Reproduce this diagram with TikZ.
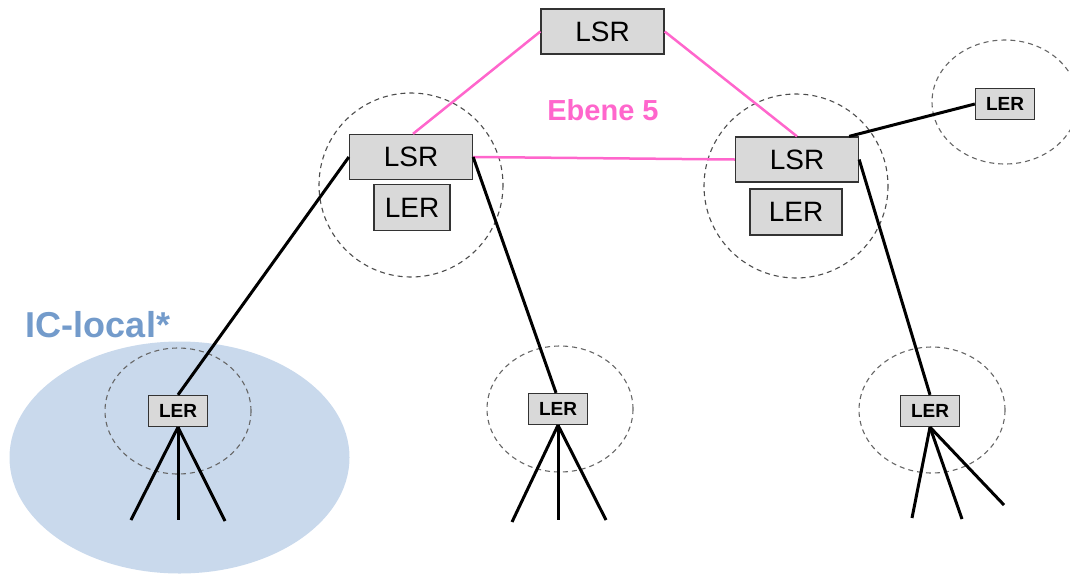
\documentclass[tikz,border=0pt]{standalone}
\usepackage{fontspec}
\setmainfont{Liberation Sans}
\usepackage{xcolor}
\definecolor{pinkline}{HTML}{FF66CC}
\definecolor{icblue}{HTML}{C9D9EC}
\definecolor{ictext}{HTML}{739BCB}
\definecolor{boxgray}{HTML}{D9D9D9}

\tikzset{
  box/.style={draw=black!80, fill=boxgray, line width=1.3pt, inner sep=0pt},
  lsr/.style={box, minimum width=123pt, minimum height=45pt, font=\fontsize{28}{30}\selectfont},
  bigler/.style={box, minimum height=46pt, font=\fontsize{28}{30}\selectfont},
  smallller/.style={box, minimum width=59pt, minimum height=31pt, font=\fontsize{19}{21}\selectfont\bfseries},
  zone/.style={draw=black!70, line width=1.1pt, dash pattern=on 5pt off 4pt},
  wire/.style={line width=3pt},
  pinkwire/.style={draw=pinkline, line width=2.5pt}
}

\begin{document}
\begin{tikzpicture}[x=1pt,y=-1pt]
    \useasboundingbox (0,0) rectangle (1070,574);
    % IC-local area
    \fill[icblue] (179.5,457.5) ellipse [x radius=170, y radius=116];
    \node[text=ictext, font=\fontsize{36}{38}\selectfont\bfseries] (iclocal) at (98,325) {IC-local*};

    % dashed zones
    \draw[zone] (411,185) circle (92);
    \draw[zone] (796,186) circle (92);
    \draw[zone, black!60] (1005,102) ellipse [x radius=73, y radius=62];
    \draw[zone, black!60] (178,411) ellipse [x radius=73, y radius=63];
    \draw[zone, black!60] (560,409) ellipse [x radius=73, y radius=63];
    \draw[zone, black!60] (932,410) ellipse [x radius=73, y radius=63];

    % routers
    \node[lsr] (lsrT) at (602.5,31.5) {LSR};
    \node[lsr] (lsrL) at (411,157) {LSR};
    \node[lsr] (lsrR) at (797,159.5) {LSR};
    \node[bigler, minimum width=76pt] (lerL) at (412,207.5) {LER};
    \node[bigler, minimum width=92pt] (lerR) at (796,212) {LER};
    \node[smallller] (lerE) at (1005,104) {LER};
    \node[smallller] (lerA) at (178,411) {LER};
    \node[smallller] (lerB) at (558,409) {LER};
    \node[smallller] (lerC) at (930,411) {LER};

    \node[text=pinkline, font=\fontsize{29}{31}\selectfont\bfseries] (ebene) at (603,110) {Ebene 5};

    % Ebene 5 links
    \draw[pinkwire] (lsrT.west) -- ([xshift=2pt]lsrL.north);
    \draw[pinkwire] (lsrT.east) -- (lsrR.north);
    \draw[pinkwire] (lsrL.east) -- (lsrR.west);

    % access links
    \draw[wire] (lsrL.west) -- (lerA.north);
    \draw[wire] (lsrL.east) -- ([xshift=-2pt]lerB.north);
    \draw[wire] (lsrR.east) -- (lerC.north);
    \draw[wire] ([xshift=-10pt]lsrR.north east) -- (lerE.west);

    % subscriber lines
    \foreach \n/\x/\y in {a1/131/520, a2/178/520, a3/225/521,
                          b1/512/522, b2/558/520, b3/606/520,
                          c1/912/518, c2/962/519, c3/1004/505}
      \coordinate (\n) at (\x,\y);
    \foreach \s/\n in {lerA/a1, lerA/a2, lerA/a3, lerB/b1, lerB/b2, lerB/b3,
                       lerC/c1, lerC/c2, lerC/c3}
      \draw[wire] (\s.south) -- (\n);
\end{tikzpicture}
\end{document}
